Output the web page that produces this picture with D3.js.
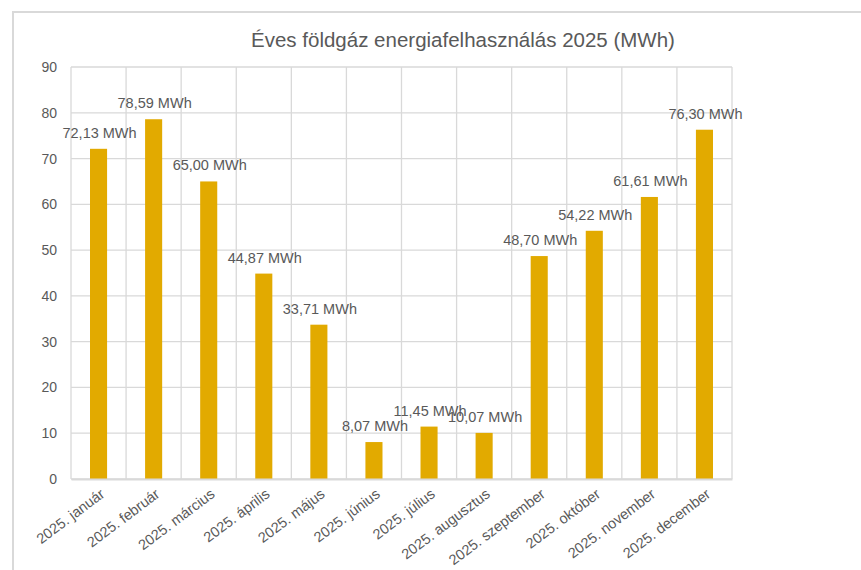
<!DOCTYPE html>
<html>
<head>
<meta charset="utf-8">
<script src="https://cdn.jsdelivr.net/npm/d3@7"></script>
<style>
  body { margin: 0; background: #fff; }
  text { font-family: "Liberation Sans", Arial, sans-serif; fill: #595959; }
</style>
</head>
<body>
<div id="chart"></div>
<script>
const months = ["2025. január", "2025. február", "2025. március", "2025. április", "2025. május", "2025. június",
  "2025. július", "2025. augusztus", "2025. szeptember", "2025. október", "2025. november", "2025. december"];
const values = [72.13, 78.59, 65.00, 44.87, 33.71, 8.07, 11.45, 10.07, 48.70, 54.22, 61.61, 76.30];
const yTicks = [0, 10, 20, 30, 40, 50, 60, 70, 80, 90];

const W = 861, H = 570;
const margin = {top: 67, right: 129, bottom: 91, left: 71};
const width = W - margin.left - margin.right;
const height = H - margin.top - margin.bottom;

const root = d3.select("#chart").append("svg")
  .attr("width", W)
  .attr("height", H);

// chart frame
root.append("rect")
  .attr("x", 13).attr("y", 12)
  .attr("width", W + 20).attr("height", H + 20)
  .attr("fill", "none")
  .attr("stroke", "#d9d9d9")
  .attr("stroke-width", 2);

root.append("text")
  .attr("x", 463).attr("y", 47)
  .attr("text-anchor", "middle")
  .style("font-size", "20.5px")
  .text("Éves földgáz energiafelhasználás 2025 (MWh)");

const svg = root.append("g")
  .attr("transform", `translate(${margin.left},${margin.top})`);

const x = d3.scaleBand().domain(months).range([0, width]).paddingInner(0).paddingOuter(0);
const y = d3.scaleLinear().domain([0, 90]).range([height, 0]);

// horizontal grid
svg.append("g")
  .selectAll("line")
  .data(yTicks)
  .join("line")
  .attr("x1", 0).attr("x2", width)
  .attr("y1", d => y(d)).attr("y2", d => y(d))
  .attr("stroke", "#d9d9d9")
  .attr("stroke-width", 1.3);

// vertical grid
svg.append("g")
  .selectAll("line")
  .data(months.concat(["end"]))
  .join("line")
  .attr("x1", (d, i) => i * x.bandwidth()).attr("x2", (d, i) => i * x.bandwidth())
  .attr("y1", 0).attr("y2", height)
  .attr("stroke", "#d9d9d9")
  .attr("stroke-width", 1.3);

const barW = x.bandwidth() * 0.31;

svg.append("g")
  .selectAll("rect")
  .data(values)
  .join("rect")
  .attr("x", (d, i) => x(months[i]) + x.bandwidth() / 2 - barW / 2)
  .attr("y", d => y(d))
  .attr("width", barW)
  .attr("height", d => height - y(d))
  .attr("fill", "#e2aa00");

// value labels
svg.append("g")
  .selectAll("text")
  .data(values)
  .join("text")
  .attr("x", (d, i) => x(months[i]) + x.bandwidth() / 2 + 1)
  .attr("y", d => y(d) - 11)
  .attr("text-anchor", "middle")
  .style("font-size", "14.5px")
  .text(d => d.toFixed(2).replace(".", ",") + " MWh");

// y axis
const yAxis = d3.axisLeft(y).tickValues(yTicks).tickSize(0).tickPadding(14);
const gy = svg.append("g").call(yAxis);
gy.select(".domain").remove();
gy.selectAll("text").style("font-size", "14px").attr("fill", "#595959");

// x axis
const xAxis = d3.axisBottom(x).tickSize(0).tickPadding(0);
const gx = svg.append("g").attr("transform", `translate(0,${height})`).call(xAxis);
gx.select(".domain").attr("stroke", "#d9d9d9").attr("stroke-width", 2);
gx.selectAll("text")
  .style("font-size", "14.5px")
  .attr("fill", "#595959")
  .attr("text-anchor", "end")
  .attr("dy", null)
  .attr("y", 0)
  .attr("transform", "translate(7,17) rotate(-37)");
</script>
</body>
</html>
